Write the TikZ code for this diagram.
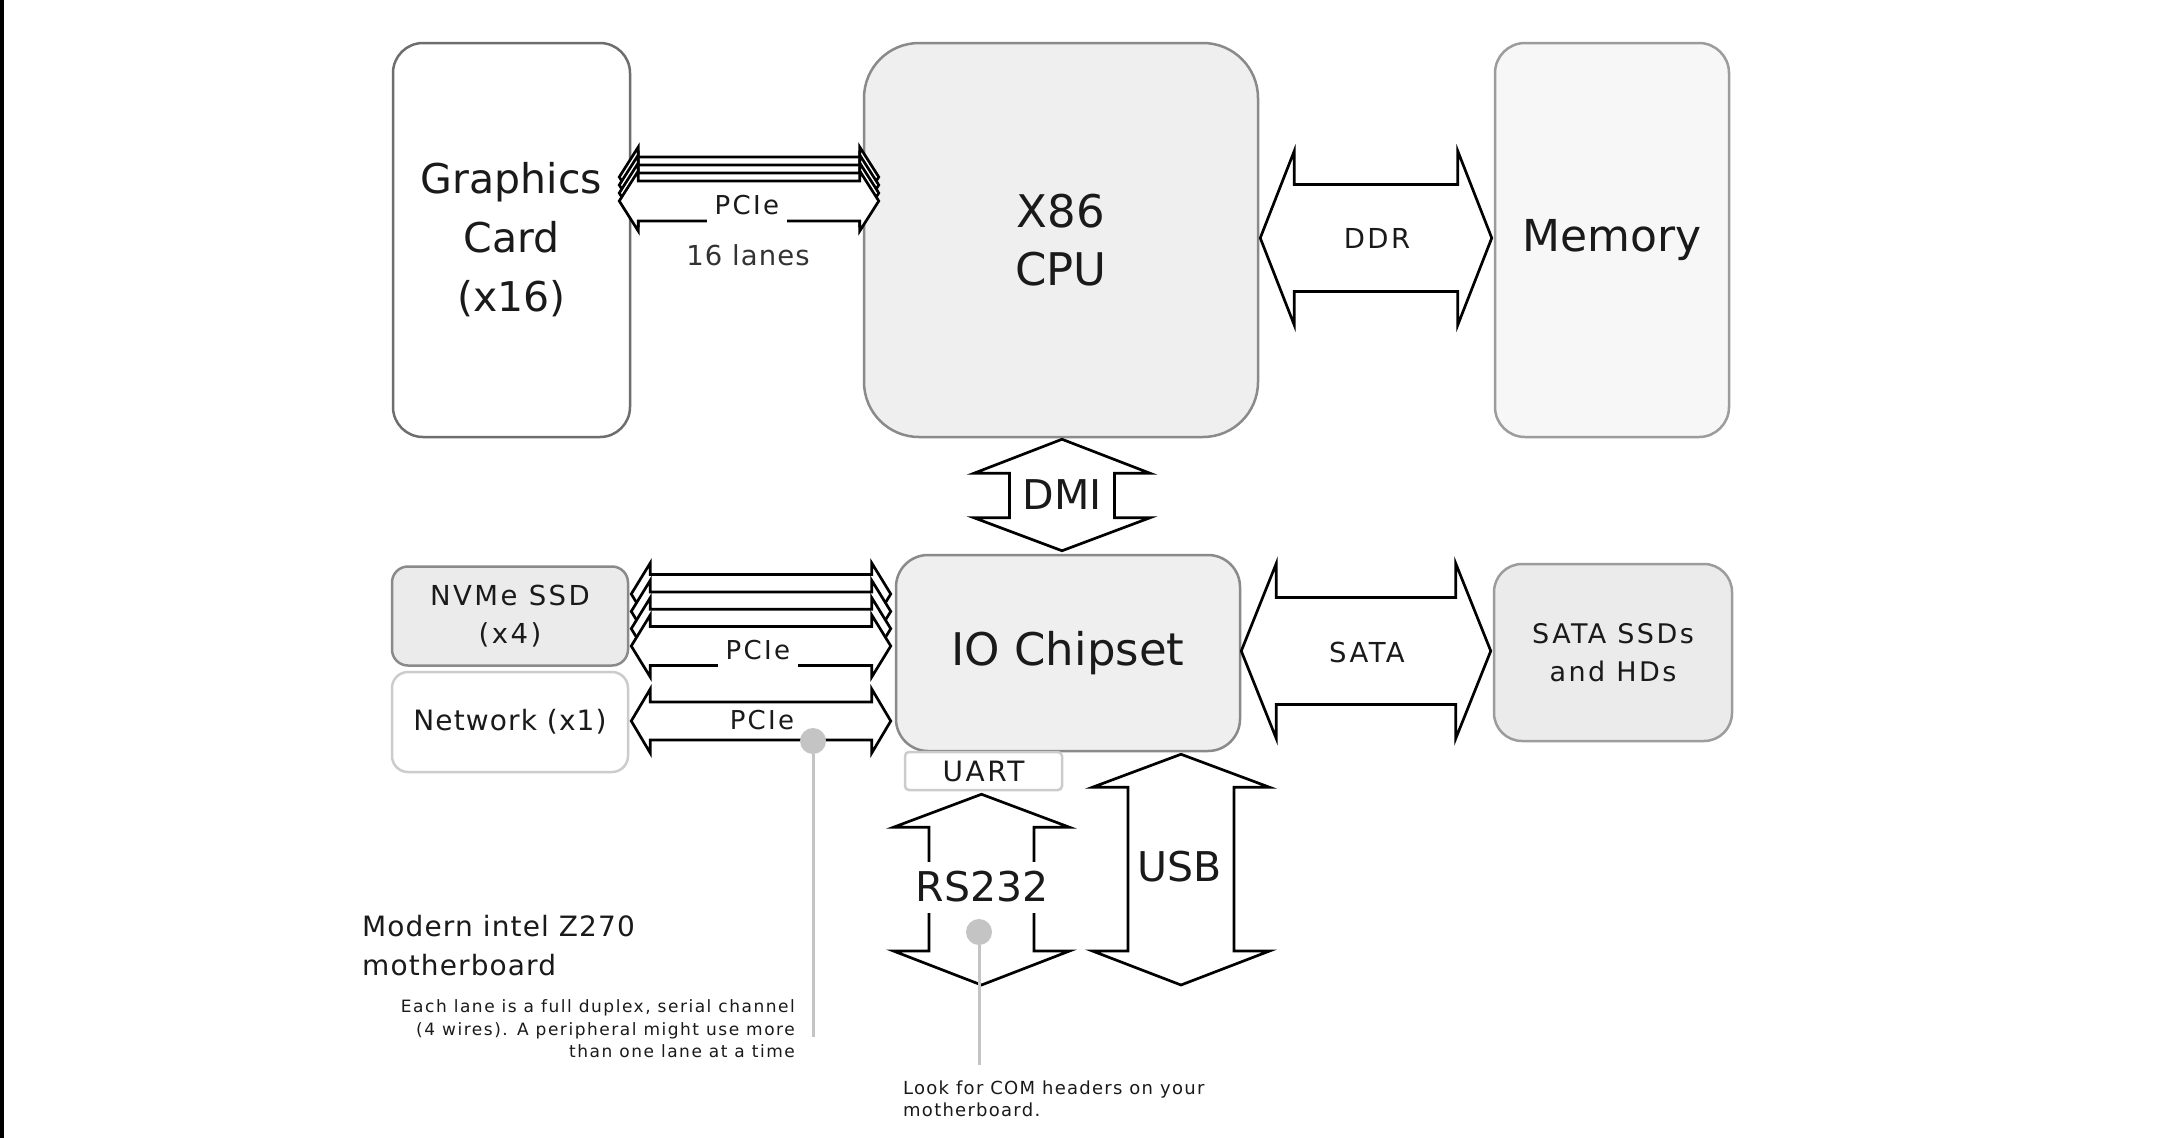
\documentclass[tikz,border=0pt]{standalone}
\usepackage{fontspec}
\setmainfont{DejaVu Sans}
\newfontfamily\spWide[LetterSpace=9]{DejaVu Sans}
\newfontfamily\spSoft[LetterSpace=4]{DejaVu Sans}
\newfontfamily\spMid[LetterSpace=7]{DejaVu Sans}
\usetikzlibrary{calc}
\definecolor{bdDark}{HTML}{6E6E6E}
\definecolor{bdMid}{HTML}{8A8A8A}
\definecolor{bdSoft}{HTML}{9C9C9C}
\definecolor{bdLight}{HTML}{CCCCCC}
\definecolor{fillCpu}{HTML}{EFEFEF}
\definecolor{fillSsd}{HTML}{EBEBEB}
\definecolor{fillMem}{HTML}{F7F7F7}
\definecolor{leadGray}{HTML}{C4C4C4}
\definecolor{txtDark}{HTML}{1A1A1A}
\definecolor{txtMid}{HTML}{333333}
\newcommand\fntHuge{\fontsize{45}{58}\selectfont}
\newcommand\fntBig{\fontsize{41}{59}\selectfont}
\newcommand\fntMem{\fontsize{44}{58}\selectfont}
\newcommand\fntNvme{\spWide\fontsize{27.5}{38}\selectfont}
\newcommand\fntNet{\spSoft\fontsize{28}{38}\selectfont}
\newcommand\fntLanes{\spSoft\fontsize{27.5}{38}\selectfont}
\newcommand\fntBus{\spWide\fontsize{27.5}{38}\selectfont}
\newcommand\fntLbl{\spWide\fontsize{26}{38}\selectfont}
\newcommand\fntSata{\spWide\fontsize{27}{38}\selectfont}
\newcommand\fntUart{\spWide\fontsize{28}{38}\selectfont}
\newcommand\fntNote{\spSoft\fontsize{28}{39}\selectfont}
\newcommand\fntSmall{\spWide\fontsize{17}{22.5}\selectfont}
\newcommand\fntLook{\spMid\fontsize{18}{22}\selectfont}
% horizontal fat double arrow: left tip, right tip, head half, shaft half, head length, y offset
\newcommand\hfatarrow[6]{%
  \coordinate (fatL) at ($(#1)+(0,#6)$);
  \coordinate (fatR) at ($(#2|-#1)+(0,#6)$);
  \draw[fatshape] (fatL) -- ($(fatL)+(#5,-#3)$) -- ($(fatL)+(#5,-#4)$) -- ($(fatR)+(-#5,-#4)$) -- ($(fatR)+(-#5,-#3)$) -- (fatR) -- ($(fatR)+(-#5,#3)$) -- ($(fatR)+(-#5,#4)$) -- ($(fatL)+(#5,#4)$) -- ($(fatL)+(#5,#3)$) -- cycle;}
% vertical fat double arrow: top tip, bottom tip, head half, shaft half, top head length, bottom head length
\newcommand\vfatarrow[6]{%
  \coordinate (fatT) at (#1);
  \coordinate (fatB) at (#1|-#2);
  \draw[fatshape] (fatT) -- ($(fatT)+(#3,#5)$) -- ($(fatT)+(#4,#5)$) -- ($(fatB)+(#4,-#6)$) -- ($(fatB)+(#3,-#6)$) -- (fatB) -- ($(fatB)+(-#3,-#6)$) -- ($(fatB)+(-#4,-#6)$) -- ($(fatT)+(-#4,#5)$) -- ($(fatT)+(-#3,#5)$) -- cycle;}
\begin{document}
\begin{tikzpicture}[x=1pt,y=-1pt,
  box/.style={line width=2.5pt, inner sep=0pt, align=center, text=txtDark},
  fatshape/.style={draw=black, fill=white, line width=2.7pt, line join=miter},
  lblbox/.style={fill=white, inner xsep=8pt, inner ysep=9pt, font=\fntLbl, text=txtDark},
  leader/.style={draw=leadGray, line width=3pt},
  dotmark/.style={circle, fill=leadGray, minimum size=26pt, inner sep=0pt}]
\useasboundingbox (0,0) rectangle (2161,1138);
\fill[white] (0,0) rectangle (2161,1138);
\fill[black] (0,0) rectangle (3.5,1138);

% boxes
\node[box, draw=bdDark, fill=white, rounded corners=30pt, minimum width=237pt, minimum height=394pt, font=\fntBig] (gfx) at (511.5,240) {Graphics\\Card\\(x16)};
\node[box, draw=bdMid, fill=fillCpu, rounded corners=55pt, minimum width=394pt, minimum height=394pt, font=\fntHuge] (cpu) at (1061,240) {X86\\CPU};
\node[box, draw=bdSoft, fill=fillMem, rounded corners=30pt, minimum width=234pt, minimum height=394pt, font=\fntMem] (mem) at (1612,240) {Memory};
\node[box, draw=bdMid, fill=fillCpu, rounded corners=32pt, minimum width=344pt, minimum height=196pt, font=\fntHuge] (io) at (1068,653) {IO Chipset};
\node[box, draw=bdMid, fill=fillSsd, rounded corners=16pt, minimum width=236pt, minimum height=99pt, font=\fntNvme] (nvme) at (510,616) {NVMe SSD\\(x4)};
\node[box, draw=bdLight, fill=white, rounded corners=16pt, minimum width=236pt, minimum height=100pt, font=\fntNet] (net) at (510,722) {Network (x1)};
\node[box, draw=bdSoft, fill=fillSsd, rounded corners=28pt, minimum width=238pt, minimum height=177pt, font=\fntSata] (sata) at (1613,652.5) {SATA SSDs\\and HDs};
\node[box, draw=bdLight, fill=white, rounded corners=4pt, minimum width=157pt, minimum height=38pt, font=\fntUart] (uart) at (983.5,771) {UART};

% Graphics PCIe x16
\coordinate (gL) at ($(gfx.east)+(-12,-39)$);
\coordinate (gR) at ($(cpu.west)+(16,-39)$);
\foreach \d in {-24,-16,-8,0} {\hfatarrow{gL}{gR}{30}{20}{19}{\d}}
\node[lblbox] (pcieA) at (747,205) {PCIe};
\node[font=\fntLanes, text=txtMid] (lanes) at (748,255) {16 lanes};

% NVMe PCIe x4
\coordinate (nL) at ($(nvme.east)+(2,30)$);
\coordinate (nR) at ($(io.west|-nL)+(-4,0)$);
\foreach \d in {-52,-34.6,-17.3,0} {\hfatarrow{nL}{nR}{31}{19.5}{19}{\d}}
\node[lblbox, inner ysep=8pt] (pcieB) at (758,650) {PCIe};

% Network PCIe x1
\coordinate (wL) at ($(net.east)+(2,-1)$);
\coordinate (wR) at ($(io.west|-wL)+(-4,0)$);
\hfatarrow{wL}{wR}{32}{19}{19}{0}
\node[font=\fntLbl, text=txtDark] (pcieC) at (762,720) {PCIe};

% DDR
\coordinate (dL) at ($(cpu.east)+(1,-2)$);
\coordinate (dR) at ($(mem.west)+(-2,-2)$);
\hfatarrow{dL}{dR}{87}{53.5}{34}{0}
\node[font=\fntBus, text=txtDark] (ddr) at (1377,238) {DDR};

% SATA
\coordinate (sL) at ($(io.east)+(0,-2)$);
\coordinate (sR) at ($(sata.west)+(-2,0)$);
\hfatarrow{sL}{sR}{87.5}{53.5}{35}{0}
\node[font=\fntBus, text=txtDark] (satal) at (1367,652) {SATA};

% DMI
\coordinate (mT) at ($(cpu.south)+(1,1)$);
\coordinate (mB) at ($(io.north)+(0,-3)$);
\vfatarrow{mT}{mB}{88}{52.5}{34}{33}
\node[font=\fntBig, text=txtDark] (dmi) at (1062,495) {DMI};

% RS232
\coordinate (rT) at ($(uart.south)+(-2,3)$);
\coordinate (rB) at (981.5,985);
\vfatarrow{rT}{rB}{88}{52.5}{33}{34}
\node[fill=white, font=\fntBig, text=txtDark, inner xsep=2pt, inner ysep=10pt] (rs) at (982,887) {RS232};

% USB
\coordinate (uT) at ($(io.south)+(113,2)$);
\coordinate (uB) at (1181,985);
\vfatarrow{uT}{uB}{88.5}{53}{33}{34}
\node[font=\fntBig, text=txtDark] (usb) at (1180,867) {USB};

% leaders
\node[dotmark] (dotA) at (813,741) {};
\coordinate (leadA) at (813,1037);
\draw[leader] (dotA) -- (leadA);
\node[dotmark] (dotB) at (979,932) {};
\coordinate (leadB) at (979,1065);
\draw[leader] (dotB) -- (leadB);

% notes
\node[anchor=west, inner sep=0pt, align=left, font=\fntNote, text=txtDark] (title) at (362,946) {Modern intel Z270\\motherboard};
\node[anchor=east, inner sep=0pt, align=right, font=\fntSmall, text=txtDark] (noteA) at (795,1029) {Each lane is a full duplex, serial channel\\(4 wires). A peripheral might use more\\than one lane at a time};
\node[anchor=west, inner sep=0pt, align=left, font=\fntLook, text=txtDark] (noteB) at (903,1099) {Look for COM headers on your\\motherboard.};
\end{tikzpicture}
\end{document}
